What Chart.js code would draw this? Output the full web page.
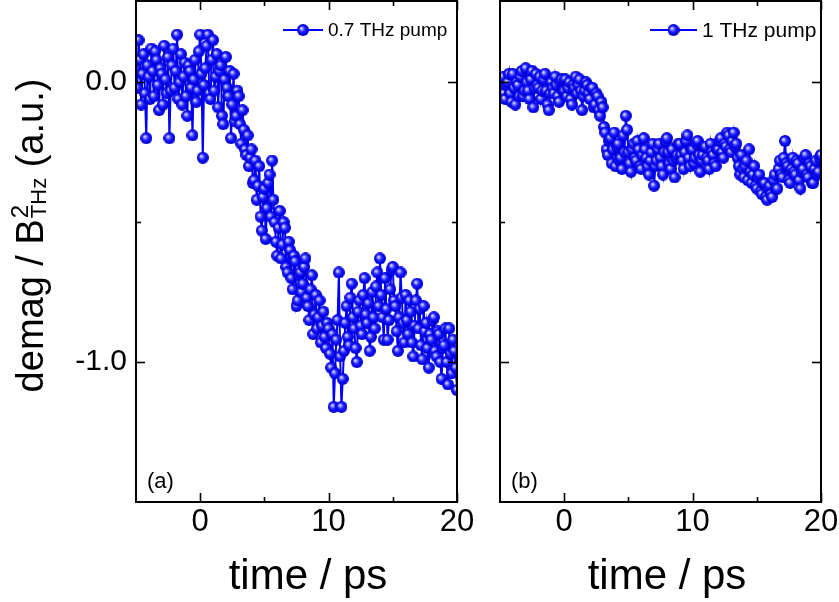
<!DOCTYPE html>
<html>
<head>
<meta charset="utf-8">
<script src="https://cdn.jsdelivr.net/npm/chart.js@4.4.0/dist/chart.umd.min.js"></script>
<style>
  html, body { margin: 0; padding: 0; background: #fff; }
  #wrap { position: relative; width: 839px; height: 602px; }
  #c1 { position: absolute; left: 0; top: 0; }
  #c2 { position: absolute; left: 480px; top: 0; }
</style>
</head>
<body>
<div id="wrap">
  <canvas id="c1" width="480" height="602"></canvas>
  <canvas id="c2" width="359" height="602"></canvas>
</div>
<script>
// time axis (ps), one row per picosecond
const time = [
  -5, -4.9, -4.8, -4.7, -4.6, -4.5, -4.4, -4.3, -4.2, -4.1,
  -4, -3.9, -3.8, -3.7, -3.6, -3.5, -3.4, -3.3, -3.2, -3.1,
  -3, -2.9, -2.8, -2.7, -2.6, -2.5, -2.4, -2.3, -2.2, -2.1,
  -2, -1.9, -1.8, -1.7, -1.6, -1.5, -1.4, -1.3, -1.2, -1.1,
  -1, -0.9, -0.8, -0.7, -0.6, -0.5, -0.4, -0.3, -0.2, -0.1,
  0, 0.1, 0.2, 0.3, 0.4, 0.5, 0.6, 0.7, 0.8, 0.9,
  1, 1.1, 1.2, 1.3, 1.4, 1.5, 1.6, 1.7, 1.8, 1.9,
  2, 2.1, 2.2, 2.3, 2.4, 2.5, 2.6, 2.7, 2.8, 2.9,
  3, 3.1, 3.2, 3.3, 3.4, 3.5, 3.6, 3.7, 3.8, 3.9,
  4, 4.1, 4.2, 4.3, 4.4, 4.5, 4.6, 4.7, 4.8, 4.9,
  5, 5.1, 5.2, 5.3, 5.4, 5.5, 5.6, 5.7, 5.8, 5.9,
  6, 6.1, 6.2, 6.3, 6.4, 6.5, 6.6, 6.7, 6.8, 6.9,
  7, 7.1, 7.2, 7.3, 7.4, 7.5, 7.6, 7.7, 7.8, 7.9,
  8, 8.1, 8.2, 8.3, 8.4, 8.5, 8.6, 8.7, 8.8, 8.9,
  9, 9.1, 9.2, 9.3, 9.4, 9.5, 9.6, 9.7, 9.8, 9.9,
  10, 10.1, 10.2, 10.3, 10.4, 10.5, 10.6, 10.7, 10.8, 10.9,
  11, 11.1, 11.2, 11.3, 11.4, 11.5, 11.6, 11.7, 11.8, 11.9,
  12, 12.1, 12.2, 12.3, 12.4, 12.5, 12.6, 12.7, 12.8, 12.9,
  13, 13.1, 13.2, 13.3, 13.4, 13.5, 13.6, 13.7, 13.8, 13.9,
  14, 14.1, 14.2, 14.3, 14.4, 14.5, 14.6, 14.7, 14.8, 14.9,
  15, 15.1, 15.2, 15.3, 15.4, 15.5, 15.6, 15.7, 15.8, 15.9,
  16, 16.1, 16.2, 16.3, 16.4, 16.5, 16.6, 16.7, 16.8, 16.9,
  17, 17.1, 17.2, 17.3, 17.4, 17.5, 17.6, 17.7, 17.8, 17.9,
  18, 18.1, 18.2, 18.3, 18.4, 18.5, 18.6, 18.7, 18.8, 18.9,
  19, 19.1, 19.2, 19.3, 19.4, 19.5, 19.6, 19.7, 19.8, 19.9,
  20
];

// (a) 0.7 THz pump
const demag07 = [
  0.05, -0.02, 0.15, 0.08, -0.08, 0.03, 0.10, -0.04, -0.20, 0.06,
  0.02, -0.06, 0.12, 0.04, -0.05, 0.11, 0.08, -0.01, -0.10, 0.05,
  0.03, -0.08, 0.13, 0.01, -0.04, 0.09, -0.20, -0.03, 0.06, 0.12,
  -0.02, 0.04, 0.17, -0.06, 0.00, 0.10, -0.08, 0.02, 0.07, -0.05,
  -0.12, 0.06, 0.04, -0.02, -0.19, 0.01, 0.08, -0.07, -0.03, 0.11,
  0.17, 0.03, -0.27, -0.01, 0.05, 0.13, 0.17, -0.04, -0.06, 0.08,
  0.15, -0.03, 0.02, 0.10, -0.09, 0.04, 0.06, -0.12, -0.15, 0.01,
  0.09, -0.02, -0.05, 0.04, -0.20, -0.08, 0.03, -0.14, -0.12, -0.03,
  -0.05, -0.15, -0.22, -0.10, -0.17, -0.24, -0.26, -0.19, -0.30, -0.27,
  -0.24, -0.36, -0.35, -0.28, -0.42, -0.37, -0.30, -0.48, -0.53, -0.41,
  -0.38, -0.56, -0.45, -0.36, -0.33, -0.48, -0.28, -0.42, -0.50, -0.57,
  -0.62, -0.52, -0.46, -0.63, -0.58, -0.50, -0.52, -0.66, -0.68, -0.57,
  -0.60, -0.70, -0.74, -0.62, -0.64, -0.80, -0.78, -0.69, -0.68, -0.75,
  -0.72, -0.66, -0.63, -0.77, -0.80, -0.85, -0.74, -0.69, -0.90, -0.83,
  -0.76, -0.88, -0.84, -0.78, -0.93, -0.87, -0.82, -0.91, -0.95, -0.86,
  -0.88, -0.97, -1.02, -0.90, -1.16, -1.04, -0.92, -0.85, -0.68, -0.98,
  -1.16, -1.06, -0.96, -0.86, -0.80, -0.91, -0.94, -0.77, -0.72, -0.84,
  -0.88, -0.95, -1.00, -0.82, -0.78, -0.87, -0.90, -0.76, -0.70, -0.83,
  -0.86, -0.79, -0.96, -0.91, -0.75, -0.84, -0.88, -0.73, -0.68, -0.80,
  -0.63, -0.76, -0.84, -0.92, -0.70, -0.81, -0.92, -0.85, -0.74, -0.67,
  -0.66, -0.78, -0.80, -0.89, -0.96, -0.84, -0.68, -0.77, -0.86, -0.93,
  -0.76, -0.85, -0.90, -0.78, -0.82, -0.93, -0.98, -0.87, -0.78, -0.72,
  -0.88, -0.81, -0.94, -0.99, -0.80, -0.89, -0.86, -0.95, -1.02, -0.90,
  -0.92, -0.85, -0.84, -0.96, -0.98, -0.89, -0.90, -1.00, -1.06, -0.95,
  -0.94, -0.88, -1.00, -1.08, -0.88, -0.97, -1.04, -0.92, -0.96, -1.02,
  -1.10
];

// (b) 1 THz pump
const demag1 = [
  -0.02, 0.01, 0.02, -0.04, -0.06, -0.01, 0.00, 0.03, -0.04, -0.07,
  0.03, -0.02, -0.08, 0.00, -0.01, -0.05, 0.02, 0.04, -0.05, -0.03,
  0.05, 0.00, -0.03, -0.06, 0.01, 0.04, -0.09, -0.02, 0.03, -0.01,
  -0.02, 0.02, -0.06, -0.03, 0.01, 0.03, -0.03, -0.08, -0.10, -0.04,
  0.00, -0.02, -0.04, 0.02, -0.01, -0.05, -0.07, 0.00, 0.01, -0.03,
  -0.03, 0.01, -0.05, -0.02, 0.00, -0.06, -0.08, -0.01, -0.02, 0.02,
  -0.04, -0.01, 0.01, -0.03, -0.10, -0.05, -0.03, 0.00, -0.01, -0.04,
  -0.06, -0.02, -0.02, -0.09, -0.08, -0.04, -0.05, -0.10, -0.12, -0.07,
  -0.09, -0.16, -0.18, -0.24, -0.26, -0.21, -0.20, -0.29, -0.24, -0.18,
  -0.30, -0.23, -0.22, -0.28, -0.27, -0.31, -0.19, -0.25, -0.12, -0.17,
  -0.25, -0.29, -0.32, -0.24, -0.22, -0.27, -0.28, -0.21, -0.24, -0.30,
  -0.31, -0.26, -0.20, -0.24, -0.27, -0.30, -0.33, -0.28, -0.25, -0.22,
  -0.37, -0.30, -0.28, -0.24, -0.22, -0.27, -0.30, -0.33, -0.25, -0.21,
  -0.20, -0.25, -0.29, -0.31, -0.24, -0.28, -0.34, -0.27, -0.26, -0.22,
  -0.22, -0.26, -0.28, -0.31, -0.25, -0.21, -0.19, -0.27, -0.30, -0.24,
  -0.24, -0.29, -0.27, -0.22, -0.21, -0.26, -0.32, -0.28, -0.26, -0.23,
  -0.23, -0.27, -0.28, -0.31, -0.22, -0.25, -0.26, -0.29, -0.30, -0.24,
  -0.24, -0.21, -0.20, -0.25, -0.27, -0.22, -0.23, -0.18, -0.19, -0.24,
  -0.25, -0.21, -0.18, -0.23, -0.22, -0.27, -0.30, -0.33, -0.26, -0.31,
  -0.34, -0.30, -0.28, -0.35, -0.24, -0.32, -0.36, -0.33, -0.30, -0.37,
  -0.38, -0.34, -0.33, -0.39, -0.40, -0.36, -0.36, -0.41, -0.42, -0.38,
  -0.37, -0.40, -0.41, -0.35, -0.33, -0.38, -0.38, -0.31, -0.28, -0.33,
  -0.34, -0.27, -0.21, -0.29, -0.30, -0.35, -0.36, -0.31, -0.27, -0.32,
  -0.33, -0.28, -0.29, -0.35, -0.38, -0.32, -0.31, -0.27, -0.26, -0.33,
  -0.34, -0.29, -0.30, -0.36, -0.36, -0.31, -0.28, -0.33, -0.32, -0.27,
  -0.26
];

const xMajor = [0, 10, 20];
const xMinor = [5, 15];
const yMajor = [0, -1];
const yMinor = [-0.5];

const FONT = '"Liberation Sans", Arial, sans-serif';
const BLUE = '#0000ff';

// shaded ball used as the point marker
function makeSphere(r) {
  const c = document.createElement('canvas');
  c.width = c.height = r * 2;
  const g = c.getContext('2d');
  const grad = g.createRadialGradient(r - 1.8, r - 1.8, 0, r, r, r);
  grad.addColorStop(0, '#ffffff');
  grad.addColorStop(0.18, '#a8a8ff');
  grad.addColorStop(0.5, '#2020ff');
  grad.addColorStop(0.85, '#0000e8');
  grad.addColorStop(1, '#0000b4');
  g.fillStyle = grad;
  g.beginPath();
  g.arc(r, r, r, 0, Math.PI * 2);
  g.fill();
  return c;
}
const sphere = makeSphere(6);

// box, inward ticks, panel letter, x title and legend
const frame = {
  id: 'frame',
  afterDatasetsDraw(chart, args, opts) {
    const { ctx, chartArea: a, scales: { x, y } } = chart;
    ctx.save();
    ctx.strokeStyle = '#000';
    ctx.lineWidth = 2;
    ctx.strokeRect(a.left, a.top, a.right - a.left, a.bottom - a.top);
    ctx.lineWidth = 1.6;
    const line = (x1, y1, x2, y2) => { ctx.beginPath(); ctx.moveTo(x1, y1); ctx.lineTo(x2, y2); ctx.stroke(); };
    const xt = (vals, len) => vals.forEach(v => {
      const px = Math.round(x.getPixelForValue(v)) + 0.5;
      line(px, a.bottom, px, a.bottom - len);
      line(px, a.top, px, a.top + len);
    });
    const yt = (vals, len) => vals.forEach(v => {
      const py = Math.round(y.getPixelForValue(v)) + 0.5;
      line(a.left, py, a.left + len, py);
      line(a.right, py, a.right - len, py);
    });
    xt(xMajor, 9); xt(xMinor, 5);
    yt(yMajor, 9); yt(yMinor, 5);

    ctx.fillStyle = '#000';
    ctx.font = '22px ' + FONT;
    ctx.textBaseline = 'alphabetic';
    ctx.fillText(opts.panel, a.left + 11, a.bottom - 14);

    ctx.font = '42px ' + FONT;
    ctx.textAlign = 'center';
    ctx.fillText('time / ps', opts.tx, 589);
    ctx.textAlign = 'left';

    // legend
    const ly = 30;
    ctx.strokeStyle = BLUE;
    ctx.lineWidth = 2;
    line(opts.lx, ly, opts.lx + opts.lw, ly);
    ctx.drawImage(sphere, opts.lx + opts.lw / 2 - 6, ly - 6);
    ctx.fillStyle = '#000';
    ctx.font = opts.lsize + 'px ' + FONT;
    ctx.textBaseline = 'middle';
    ctx.fillText(opts.text, opts.lx + opts.lw + 5, ly + 1);
    ctx.restore();
  }
};

// y title with B^2_THz
const yTitle = {
  id: 'yTitle',
  afterDraw(chart) {
    const ctx = chart.ctx;
    const parts = [
      { t: 'demag / B', size: 38, dy: 0 },
      { t: '2', size: 24, dy: -15 },
      { t: 'THz', size: 22, dy: 3 },
      { t: ' (a.u.)', size: 38, dy: 0 }
    ];
    ctx.save();
    ctx.fillStyle = '#000';
    ctx.textBaseline = 'alphabetic';
    const w = parts.map(p => { ctx.font = p.size + 'px ' + FONT; return ctx.measureText(p.t).width; });
    const total = w[0] + Math.max(w[1], w[2]) + w[3];
    ctx.translate(43, 236);
    ctx.rotate(-Math.PI / 2);
    let cx = -total / 2;
    ctx.font = parts[0].size + 'px ' + FONT; ctx.fillText(parts[0].t, cx, 0); cx += w[0];
    ctx.font = parts[1].size + 'px ' + FONT; ctx.fillText(parts[1].t, cx + 1, parts[1].dy);
    ctx.font = parts[2].size + 'px ' + FONT; ctx.fillText(parts[2].t, cx + 1, parts[2].dy);
    cx += Math.max(w[1], w[2]) + 1;
    ctx.font = parts[3].size + 'px ' + FONT; ctx.fillText(parts[3].t, cx, 0);
    ctx.restore();
  }
};

function noPad(s) {
  s.paddingTop = 0; s.paddingBottom = 0; s.paddingLeft = 0; s.paddingRight = 0;
}

function makeChart(id, values, panel, yLabels, yWidth, rightPad, extra) {
  return new Chart(document.getElementById(id), {
    type: 'line',
    data: {
      datasets: [{
        data: time.map((t, i) => ({ x: t, y: values[i] })),
        borderColor: BLUE,
        borderWidth: 2,
        pointStyle: sphere,
        pointRadius: 6,
        tension: 0
      }]
    },
    options: {
      responsive: false,
      animation: false,
      devicePixelRatio: 1,
      layout: { autoPadding: false, padding: { top: 1, right: rightPad, left: 0, bottom: 0 } },
      plugins: {
        legend: { display: false },
        tooltip: { enabled: false },
        frame: Object.assign({ panel }, extra)
      },
      scales: {
        x: {
          type: 'linear',
          min: -5, max: 20,
          afterBuildTicks: s => { s.ticks = xMajor.map(v => ({ value: v })); },
          afterFit: s => { s.height = 100; noPad(s); },
          grid: { display: false, drawTicks: false },
          border: { display: false },
          ticks: { color: '#000', padding: 2, font: { family: FONT, size: 31 } }
        },
        y: {
          type: 'linear',
          min: -1.5, max: 0.29,
          afterBuildTicks: s => { s.ticks = yMajor.map(v => ({ value: v })); },
          afterFit: s => { s.width = yWidth; noPad(s); },
          grid: { display: false, drawTicks: false },
          border: { display: false },
          ticks: { display: yLabels, color: '#000', padding: 9, font: { family: FONT, size: 30 }, callback: v => v.toFixed(1) }
        }
      }
    },
    plugins: panel === '(a)' ? [frame, yTitle] : [frame]
  });
}

makeChart('c1', demag07, '(a)', true, 136, 23, { lx: 283, lw: 40, lsize: 19, text: '0.7 THz pump', tx: 308 });
makeChart('c2', demag1, '(b)', false, 20, 18, { lx: 170, lw: 47, lsize: 21, text: '1 THz pump', tx: 187 });
</script>
</body>
</html>
